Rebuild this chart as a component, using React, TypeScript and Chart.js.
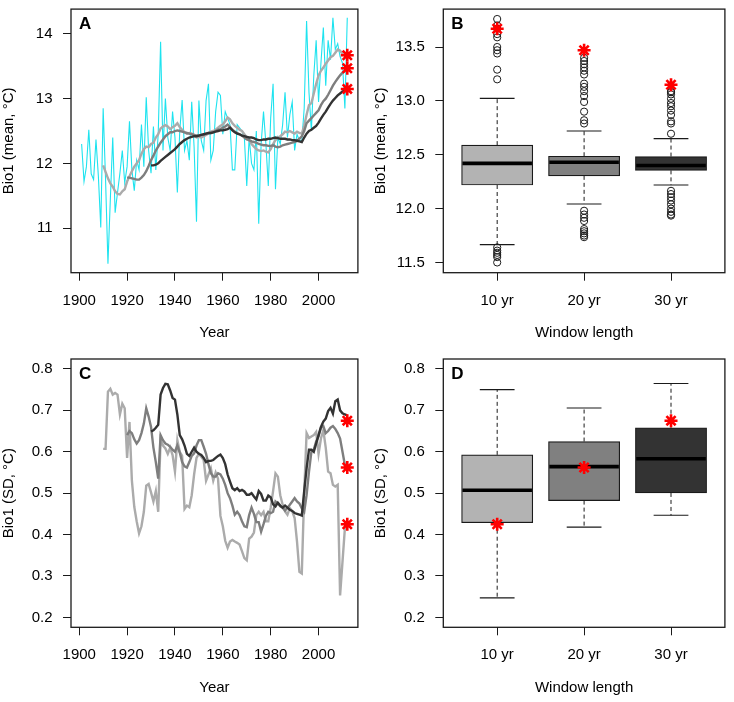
import React, { useEffect, useRef } from 'react';
import { Chart, registerables } from 'chart.js';

Chart.register(...registerables);

const FONT_FAMILY = "'Liberation Sans', Arial, Helvetica, sans-serif";

// ---------------- Panel A : annual mean and moving means ----------------
const ANNUAL_START = 1901;
const ANNUAL_MEAN = [
  12.30, 11.72, 11.95, 12.52, 11.84, 11.75, 12.37, 11.80, 11.01, 12.85,
  11.75, 10.45, 11.45, 12.40, 11.24, 11.55, 11.85, 12.20, 11.70, 11.95,
  12.65, 11.90, 11.58, 12.05, 11.90, 12.60, 11.95, 13.02, 12.20, 11.85,
  12.57, 11.90, 12.45, 13.88, 12.20, 13.00, 12.40, 12.20, 12.80, 12.40,
  11.55, 12.50, 12.98, 12.20, 12.35, 12.05, 12.95, 12.25, 11.10, 12.97,
  12.35, 12.20, 12.97, 13.23, 12.05, 12.20, 12.80, 13.10, 13.05, 12.45,
  12.80, 12.70, 12.60, 11.90, 11.90, 12.60, 12.55, 12.50, 12.40, 11.65,
  12.40, 12.00, 11.90, 12.50, 11.07, 12.30, 12.80, 12.30, 11.65, 12.70,
  13.23, 11.60, 12.40, 12.30, 12.60, 13.10, 12.40, 12.75, 12.95, 12.20,
  12.45, 12.35, 12.35, 12.85, 14.20, 13.10, 12.50, 13.35, 13.90, 12.95,
  13.55, 14.10, 13.20, 13.90, 13.60, 14.25, 13.76, 13.85, 13.65, 13.55,
  12.85, 14.25,
];
const MA10_START = 1910;
const MA10_MEAN = [
  11.97, 11.87, 11.77, 11.69, 11.64, 11.57, 11.53, 11.52, 11.57, 11.60,
  11.72, 11.80, 11.88, 11.95, 12.00, 12.05, 12.15, 12.22, 12.26, 12.25,
  12.30, 12.32, 12.40, 12.45, 12.54, 12.57, 12.59, 12.57, 12.53, 12.56,
  12.58, 12.62, 12.56, 12.52, 12.48, 12.46, 12.47, 12.46, 12.44, 12.40,
  12.41, 12.40, 12.42, 12.44, 12.46, 12.49, 12.50, 12.52, 12.55, 12.58,
  12.60, 12.65, 12.71, 12.68, 12.62, 12.58, 12.55, 12.52, 12.50, 12.45,
  12.40, 12.36, 12.30, 12.26, 12.22, 12.20, 12.19, 12.20, 12.18, 12.17,
  12.22, 12.30, 12.36, 12.40, 12.42, 12.45, 12.49, 12.48, 12.50, 12.48,
  12.46, 12.49, 12.47, 12.46, 12.58, 12.75, 12.90, 12.93, 13.08, 13.23,
  13.36, 13.43, 13.48, 13.54, 13.59, 13.64, 13.66, 13.71, 13.76, 13.74,
  13.69, 13.66, 13.66,
];
const MA20_START = 1920;
const MA20_MEAN = [
  11.78, 11.78, 11.77, 11.76, 11.75, 11.75, 11.78, 11.82, 11.88, 11.96,
  12.05, 12.12, 12.20, 12.26, 12.32, 12.37, 12.42, 12.45, 12.48, 12.48,
  12.50, 12.51, 12.50, 12.49, 12.48, 12.47, 12.46, 12.45, 12.44, 12.43,
  12.43, 12.44, 12.44, 12.46, 12.47, 12.47, 12.48, 12.50, 12.52, 12.53,
  12.55, 12.57, 12.60, 12.56, 12.52, 12.49, 12.47, 12.45, 12.43, 12.40,
  12.37, 12.36, 12.34, 12.33, 12.32, 12.30, 12.29, 12.28, 12.28, 12.27,
  12.27, 12.28, 12.26, 12.25, 12.26, 12.28, 12.29, 12.30, 12.31, 12.32,
  12.33, 12.35, 12.38, 12.42, 12.50, 12.62, 12.66, 12.70, 12.74, 12.78,
  12.82, 12.90, 12.96, 13.00, 13.06, 13.13, 13.20, 13.26, 13.31, 13.36,
  13.40, 13.43, 13.47,
];
const MA30_START = 1930;
const MA30_MEAN = [
  11.97, 11.97, 11.98, 12.00, 12.04, 12.07, 12.10, 12.13, 12.16, 12.19,
  12.22, 12.26, 12.30, 12.33, 12.36, 12.38, 12.40, 12.41, 12.42, 12.42,
  12.43, 12.44, 12.45, 12.46, 12.47, 12.47, 12.48, 12.49, 12.50, 12.51,
  12.51, 12.52, 12.53, 12.55, 12.51, 12.48, 12.46, 12.45, 12.43, 12.42,
  12.41, 12.40, 12.40, 12.39, 12.37, 12.36, 12.36, 12.37, 12.37, 12.38,
  12.38, 12.39, 12.40, 12.39, 12.38, 12.38, 12.38, 12.37, 12.37, 12.36,
  12.36, 12.35, 12.34, 12.33, 12.40, 12.46, 12.50, 12.52, 12.55, 12.58,
  12.63, 12.69, 12.75, 12.80, 12.86, 12.92, 12.97, 13.01, 13.05, 13.08,
  13.11, 13.13, 13.15,
];
const CURRENT_YEAR = 2012;
const CURRENT_MEAN = [13.67, 13.47, 13.15]; // 10, 20, 30 yr

// ---------------- Panel B : boxplots of window means ----------------
const WINDOWS = ['10 yr', '20 yr', '30 yr'];
const WINDOW_POS = [1, 2, 3];
const B_LO = [11.666, 12.043, 12.219];
const B_Q1 = [12.219, 12.304, 12.355];
const B_MED = [12.42, 12.431, 12.40];
const B_Q3 = [12.589, 12.486, 12.483];
const B_HI = [13.023, 12.72, 12.65];
const B_OUT_10 = [13.76, 13.70, 13.67, 13.62, 13.59, 13.50, 13.47, 13.44, 13.29, 13.20, 11.64, 11.61, 11.59, 11.57, 11.55, 11.50];
const B_OUT_20 = [13.40, 13.37, 13.34, 13.31, 13.28, 13.245, 13.16, 13.13, 13.09, 13.045, 12.99, 12.90, 12.82, 12.79, 11.98, 11.945, 11.915, 11.885, 11.81, 11.79, 11.77, 11.75, 11.735];
const B_OUT_30 = [13.09, 13.08, 13.06, 13.02, 12.98, 12.95, 12.91, 12.87, 12.81, 12.79, 12.695, 12.165, 12.135, 12.105, 12.075, 12.04, 12.0, 11.97, 11.945, 11.935];

// ---------------- Panel C : moving SD ----------------
const SD10_START = 1910;
const SD10 = [
  0.607, 0.607, 0.745, 0.752, 0.738, 0.742, 0.738, 0.690, 0.716, 0.705,
  0.585, 0.672, 0.530, 0.467, 0.432, 0.403, 0.420, 0.455, 0.518, 0.522,
  0.502, 0.480, 0.505, 0.455, 0.630, 0.615, 0.608, 0.595, 0.610, 0.592,
  0.552, 0.628, 0.600, 0.590, 0.462, 0.470, 0.466, 0.495, 0.545, 0.585,
  0.595, 0.588, 0.580, 0.530, 0.545, 0.560, 0.530, 0.550, 0.535, 0.445,
  0.420, 0.385, 0.368, 0.383, 0.387, 0.383, 0.380, 0.376, 0.360, 0.343,
  0.338, 0.390, 0.395, 0.405, 0.447, 0.455, 0.447, 0.455, 0.432, 0.432,
  0.465, 0.505, 0.548, 0.540, 0.495, 0.472, 0.456, 0.448, 0.464, 0.456,
  0.440, 0.383, 0.310, 0.306, 0.500, 0.645, 0.633, 0.637, 0.640, 0.648,
  0.595, 0.632, 0.652, 0.610, 0.552, 0.548, 0.520, 0.516, 0.520, 0.253,
  0.334, 0.415, 0.425,
];
const SD20_START = 1920;
const SD20 = [
  0.640, 0.650, 0.645, 0.630, 0.620, 0.628, 0.645, 0.668, 0.705, 0.685,
  0.660, 0.610, 0.575, 0.535, 0.640, 0.628, 0.620, 0.617, 0.612, 0.605,
  0.600, 0.615, 0.598, 0.575, 0.565, 0.562, 0.575, 0.590, 0.596, 0.615,
  0.628, 0.628, 0.612, 0.595, 0.570, 0.548, 0.540, 0.540, 0.548, 0.545,
  0.535, 0.520, 0.500, 0.488, 0.470, 0.448, 0.455, 0.447, 0.432, 0.420,
  0.418, 0.447, 0.465, 0.450, 0.430, 0.430, 0.407, 0.425, 0.445, 0.455,
  0.452, 0.455, 0.480, 0.475, 0.468, 0.465, 0.458, 0.465, 0.472, 0.480,
  0.488, 0.480, 0.475, 0.463, 0.455, 0.495, 0.552, 0.600, 0.605, 0.625,
  0.637, 0.658, 0.662, 0.645, 0.650, 0.658, 0.662, 0.655, 0.645, 0.632,
  0.600, 0.568, 0.563,
];
const SD30_START = 1930;
const SD30 = [
  0.649, 0.652, 0.658, 0.665, 0.738, 0.754, 0.764, 0.763, 0.748, 0.730,
  0.726, 0.690, 0.640, 0.630, 0.615, 0.595, 0.590, 0.600, 0.610, 0.600,
  0.595, 0.592, 0.585, 0.575, 0.578, 0.578, 0.580, 0.585, 0.590, 0.593,
  0.585, 0.570, 0.545, 0.528, 0.512, 0.507, 0.512, 0.505, 0.508, 0.504,
  0.496, 0.496, 0.500, 0.492, 0.485, 0.505, 0.498, 0.482, 0.482, 0.494,
  0.490, 0.473, 0.468, 0.477, 0.470, 0.465, 0.470, 0.465, 0.460, 0.457,
  0.452, 0.450, 0.448, 0.446, 0.505, 0.560, 0.605, 0.605, 0.600, 0.620,
  0.640, 0.660, 0.673, 0.680, 0.698, 0.706, 0.692, 0.722, 0.726, 0.700,
  0.693, 0.690, 0.688,
];
const CURRENT_SD = [0.425, 0.562, 0.675]; // 10, 20, 30 yr

// ---------------- Panel D : boxplots of window SD ----------------
const D_LO = [0.247, 0.418, 0.4465];
const D_Q1 = [0.4286, 0.482, 0.5005];
const D_MED = [0.507, 0.564, 0.583];
const D_Q3 = [0.5925, 0.6247, 0.658];
const D_HI = [0.75, 0.7055, 0.765];

// ---------------- axes ----------------
const YEAR_TICKS = [1900, 1920, 1940, 1960, 1980, 2000];
const YEAR_RANGE = [1896.56, 2016.44];
const WINDOW_RANGE = [0.38, 3.62];
const MEAN_TICKS = [11, 12, 13, 14];
const MEAN_RANGE = [10.312, 14.383];
const BOX_MEAN_TICKS = [11.5, 12.0, 12.5, 13.0, 13.5];
const BOX_MEAN_RANGE = [11.405, 13.852];
const SD_TICKS = [0.2, 0.3, 0.4, 0.5, 0.6, 0.7, 0.8];
const SD_RANGE = [0.176, 0.824];

// ---------------- styles ----------------
const CYAN = '#1EE3EF';
const GREYS = ['#ABABAB', '#7E7E7E', '#333333'];
const BOX_FILL = ['#B3B3B3', '#808080', '#333333'];
const STAR_RED = '#FF0000';
const INK = '#1a1a1a';
const BOX_WIDTH_PX = 71.2;
const CAP_HALF = 0.2;
const MED_HALF = 0.4;

type Geo = { w: number; h: number; left: number; top: number; right: number; bottom: number; yTitlePad: number; xTitlePad: number };

const GEO_A: Geo = { w: 367, h: 342, left: 71, top: 4, right: 359, bottom: 272.7, yTitlePad: 0, xTitlePad: 0 };
const GEO_B: Geo = { w: 367, h: 342, left: 76.3, top: 4, right: 364.7, bottom: 272.7, yTitlePad: 5.3, xTitlePad: 0 };
const GEO_C: Geo = { w: 367, h: 362, left: 71, top: 19, right: 359, bottom: 287.3, yTitlePad: 0, xTitlePad: 5.4 };
const GEO_D: Geo = { w: 367, h: 362, left: 76.3, top: 19, right: 364.7, bottom: 287.3, yTitlePad: 5.3, xTitlePad: 5.4 };

const panelFrame = {
  id: 'panelFrame',
  afterDraw(chart: any, _args: any, opts: any) {
    const { ctx, chartArea: a } = chart;
    ctx.save();
    ctx.strokeStyle = INK;
    ctx.lineWidth = 1.3;
    ctx.strokeRect(a.left, a.top, a.right - a.left, a.bottom - a.top);
    if (opts && opts.letter) {
      ctx.fillStyle = '#000';
      ctx.font = `bold 17px ${FONT_FAMILY}`;
      ctx.textAlign = 'left';
      ctx.textBaseline = 'middle';
      ctx.fillText(opts.letter, a.left + 8, a.top + 15);
    }
    ctx.restore();
  },
};

type AxisSpec = { range: number[]; ticks: number[]; label: (v: number) => string; title: string };

function makeOptions(g: Geo, x: AxisSpec, y: AxisSpec, letter: string): any {
  const font = { family: FONT_FAMILY, size: 15 };
  const grid = { offset: false, drawOnChartArea: false, drawTicks: true, tickLength: 8, tickColor: INK, tickWidth: 1 };
  return {
    responsive: false,
    animation: false,
    events: [],
    layout: { padding: { left: 0, top: g.top, right: g.w - g.right, bottom: 0 } },
    plugins: { legend: { display: false }, tooltip: { enabled: false }, panelFrame: { letter } },
    scales: {
      x: {
        type: 'linear', position: 'bottom', bounds: 'data', offset: false,
        min: x.range[0], max: x.range[1],
        afterBuildTicks: (s: any) => { s.ticks = x.ticks.map((v) => ({ value: v })); },
        afterFit: (s: any) => {
          s.height = g.h - g.bottom;
          s.paddingLeft = 0; s.paddingRight = 0; s.paddingTop = 0; s.paddingBottom = 0;
        },
        ticks: { autoSkip: false, maxRotation: 0, minRotation: 0, padding: 11, color: '#000', font, callback: (v: any) => x.label(Number(v)) },
        grid,
        border: { display: false },
        title: { display: true, text: x.title, color: '#000', font, padding: { top: 0, bottom: g.xTitlePad } },
      },
      y: {
        type: 'linear', position: 'left', bounds: 'data',
        min: y.range[0], max: y.range[1],
        afterBuildTicks: (s: any) => { s.ticks = y.ticks.map((v) => ({ value: v })); },
        afterFit: (s: any) => {
          s.width = g.left;
          s.paddingLeft = 0; s.paddingRight = 0; s.paddingTop = 0; s.paddingBottom = 0;
        },
        ticks: { autoSkip: false, padding: 10.5, color: '#000', font, callback: (v: any) => y.label(Number(v)) },
        grid,
        border: { display: false },
        title: { display: true, text: y.title, color: '#000', font, padding: { top: g.yTitlePad, bottom: 0 } },
      },
    },
  };
}

const yearSeries = (start: number, values: number[]) => values.map((v, i) => ({ x: start + i, y: v }));

function lineDataset(data: any[], color: string, width: number, order: number) {
  return { type: 'scatter', data, showLine: true, borderColor: color, borderWidth: width, pointRadius: 0, tension: 0, order };
}

function starDataset(data: any[]) {
  return {
    type: 'scatter', data, showLine: false, pointStyle: 'star', pointRadius: 6.5,
    pointBorderColor: STAR_RED, pointBackgroundColor: STAR_RED, pointBorderWidth: 2.6, order: 0,
  };
}

function boxDatasets(lo: number[], q1: number[], med: number[], q3: number[], hi: number[]) {
  const gap = (x: number) => ({ x, y: null });
  const whiskers: any[] = [];
  const caps: any[] = [];
  const medians: any[] = [];
  WINDOW_POS.forEach((x, i) => {
    whiskers.push({ x, y: q3[i] }, { x, y: hi[i] }, gap(x), { x, y: q1[i] }, { x, y: lo[i] }, gap(x));
    caps.push({ x: x - CAP_HALF, y: hi[i] }, { x: x + CAP_HALF, y: hi[i] }, gap(x), { x: x - CAP_HALF, y: lo[i] }, { x: x + CAP_HALF, y: lo[i] }, gap(x));
    medians.push({ x: x - MED_HALF, y: med[i] }, { x: x + MED_HALF, y: med[i] }, gap(x));
  });
  return [
    {
      type: 'bar', data: WINDOW_POS.map((x, i) => ({ x, y: [q1[i], q3[i]] })),
      backgroundColor: BOX_FILL, borderColor: INK, borderWidth: 1.2, borderSkipped: false,
      barThickness: BOX_WIDTH_PX, order: 5,
    },
    { type: 'scatter', data: whiskers, showLine: true, spanGaps: false, borderColor: INK, borderWidth: 1, borderDash: [4, 3], pointRadius: 0, order: 6 },
    { type: 'scatter', data: caps, showLine: true, spanGaps: false, borderColor: INK, borderWidth: 1.1, pointRadius: 0, order: 4 },
    { type: 'scatter', data: medians, showLine: true, spanGaps: false, borderColor: '#000', borderWidth: 3.6, borderCapStyle: 'butt', pointRadius: 0, order: 3 },
  ];
}

const yearLabel = (v: number) => String(v);
const oneDec = (v: number) => v.toFixed(1);
const windowLabel = (v: number) => WINDOWS[Math.round(v) - 1] ?? '';

function buildA(): any {
  return {
    type: 'scatter',
    data: {
      datasets: [
        starDataset(CURRENT_MEAN.map((v) => ({ x: CURRENT_YEAR, y: v }))),
        lineDataset(yearSeries(MA30_START, MA30_MEAN), GREYS[2], 2.4, 1),
        lineDataset(yearSeries(MA20_START, MA20_MEAN), GREYS[1], 2.4, 2),
        lineDataset(yearSeries(MA10_START, MA10_MEAN), GREYS[0], 2.4, 3),
        lineDataset(yearSeries(ANNUAL_START, ANNUAL_MEAN), CYAN, 1.1, 4),
      ],
    },
    options: makeOptions(
      GEO_A,
      { range: YEAR_RANGE, ticks: YEAR_TICKS, label: yearLabel, title: 'Year' },
      { range: MEAN_RANGE, ticks: MEAN_TICKS, label: yearLabel, title: 'Bio1 (mean, °C)' },
      'A',
    ),
    plugins: [panelFrame],
  };
}

function buildB(): any {
  const outliers = [B_OUT_10, B_OUT_20, B_OUT_30].flatMap((arr, i) => arr.map((v) => ({ x: WINDOW_POS[i], y: v })));
  return {
    type: 'scatter',
    data: {
      datasets: [
        starDataset(CURRENT_MEAN.map((v, i) => ({ x: WINDOW_POS[i], y: v }))),
        {
          type: 'scatter', data: outliers, showLine: false, pointStyle: 'circle', pointRadius: 3.6,
          pointBorderColor: INK, pointBackgroundColor: 'rgba(255,255,255,0)', pointBorderWidth: 1, order: 1,
        },
        ...boxDatasets(B_LO, B_Q1, B_MED, B_Q3, B_HI),
      ],
    },
    options: makeOptions(
      GEO_B,
      { range: WINDOW_RANGE, ticks: WINDOW_POS, label: windowLabel, title: 'Window length' },
      { range: BOX_MEAN_RANGE, ticks: BOX_MEAN_TICKS, label: oneDec, title: 'Bio1 (mean, °C)' },
      'B',
    ),
    plugins: [panelFrame],
  };
}

function buildC(): any {
  return {
    type: 'scatter',
    data: {
      datasets: [
        starDataset(CURRENT_SD.map((v) => ({ x: CURRENT_YEAR, y: v }))),
        lineDataset(yearSeries(SD30_START, SD30), GREYS[2], 2.4, 1),
        lineDataset(yearSeries(SD20_START, SD20), GREYS[1], 2.4, 2),
        lineDataset(yearSeries(SD10_START, SD10), GREYS[0], 2.4, 3),
      ],
    },
    options: makeOptions(
      GEO_C,
      { range: YEAR_RANGE, ticks: YEAR_TICKS, label: yearLabel, title: 'Year' },
      { range: SD_RANGE, ticks: SD_TICKS, label: oneDec, title: 'Bio1 (SD, °C)' },
      'C',
    ),
    plugins: [panelFrame],
  };
}

function buildD(): any {
  return {
    type: 'scatter',
    data: {
      datasets: [
        starDataset(CURRENT_SD.map((v, i) => ({ x: WINDOW_POS[i], y: v }))),
        ...boxDatasets(D_LO, D_Q1, D_MED, D_Q3, D_HI),
      ],
    },
    options: makeOptions(
      GEO_D,
      { range: WINDOW_RANGE, ticks: WINDOW_POS, label: windowLabel, title: 'Window length' },
      { range: SD_RANGE, ticks: SD_TICKS, label: oneDec, title: 'Bio1 (SD, °C)' },
      'D',
    ),
    plugins: [panelFrame],
  };
}

function Panel({ left, top, geo, build }: { left: number; top: number; geo: Geo; build: () => any }) {
  const ref = useRef<HTMLCanvasElement>(null);
  useEffect(() => {
    const chart = new Chart(ref.current as HTMLCanvasElement, build());
    return () => chart.destroy();
  }, []);
  return (
    <canvas
      ref={ref}
      width={geo.w}
      height={geo.h}
      style={{ position: 'absolute', left, top, width: geo.w, height: geo.h }}
    />
  );
}

export default function App() {
  return (
    <div style={{ position: 'absolute', left: 0, top: 0, width: 734, height: 702, background: '#fff' }}>
      <Panel left={0} top={0} geo={GEO_A} build={buildA} />
      <Panel left={367} top={0} geo={GEO_B} build={buildB} />
      <Panel left={0} top={340} geo={GEO_C} build={buildC} />
      <Panel left={367} top={340} geo={GEO_D} build={buildD} />
    </div>
  );
}
